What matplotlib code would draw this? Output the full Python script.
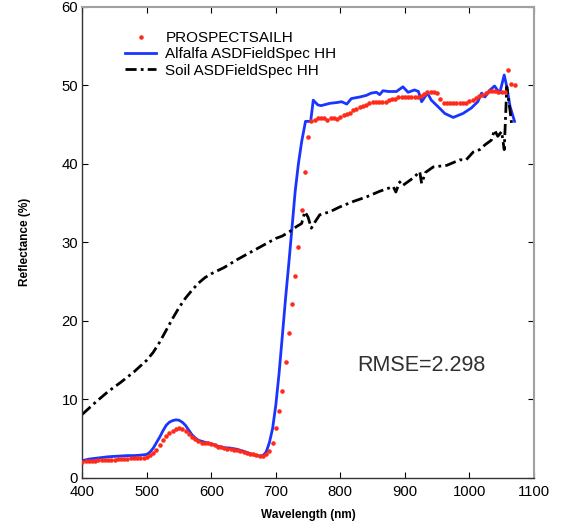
import matplotlib
matplotlib.use("Agg")
import matplotlib.pyplot as plt
import numpy as np

plt.rcParams['font.family'] = ['Liberation Sans', 'DejaVu Sans']

# PROSPECT-SAIL simulated reflectance, one value every 5 nm from 400 to 1070 nm
sim_wl = np.arange(400, 1075, 5)
sim_refl = [
    2.0, 2.1, 2.15, 2.2, 2.2, 2.25, 2.25, 2.3, 2.3, 2.35,        # 400-445
    2.35, 2.4, 2.4, 2.45, 2.45, 2.5, 2.5, 2.55, 2.55, 2.6,       # 450-495
    2.7, 2.9, 3.2, 3.6, 4.2, 4.8, 5.3, 5.7, 6.0, 6.2,            # 500-545
    6.3, 6.2, 6.0, 5.6, 5.2, 4.9, 4.7, 4.5, 4.4, 4.4,            # 550-595
    4.3, 4.2, 4.0, 3.9, 3.8, 3.7, 3.7, 3.6, 3.5, 3.4,            # 600-645
    3.3, 3.2, 3.1, 3.0, 2.9, 2.8, 2.85, 3.0, 3.4, 4.5,           # 650-695
    6.3, 8.5, 11.1, 14.8, 18.4, 22.1, 25.7, 29.4, 34.1, 38.9,    # 700-745
    43.4, 45.4, 45.6, 45.8, 45.8, 45.8, 45.6, 45.8, 45.8, 45.7,  # 750-795
    46.0, 46.2, 46.3, 46.5, 46.8, 47.0, 47.2, 47.4, 47.5, 47.7,  # 800-845
    47.9, 47.9, 47.9, 47.9, 47.9, 48.1, 48.2, 48.3, 48.5, 48.5,  # 850-895
    48.5, 48.5, 48.5, 48.5, 48.5, 48.6, 48.9, 49.2, 49.2, 49.2,  # 900-945
    49.0, 48.2, 47.8, 47.7, 47.7, 47.7, 47.7, 47.7, 47.7, 47.8,  # 950-995
    48.0, 48.1, 48.4, 48.6, 48.8, 49.0, 49.3, 49.3, 49.3, 49.2,  # 1000-1045
    49.2, 49.2, 51.9, 50.2, 50.0,                                # 1050-1070
]

# Alfalfa ASD FieldSpec measurement
alf_wl = [400, 410, 420, 430, 440, 450, 460, 470, 480, 490,
          500, 505, 510, 515, 520, 525, 530, 535, 540, 545,
          550, 555, 560, 565, 570, 575, 580, 590, 600, 610,
          620, 630, 640, 650, 660, 670, 675, 680, 685, 690,
          695, 700, 705, 710, 715, 720, 725, 730, 735, 740,
          746, 754, 758, 765, 770, 784, 795, 802, 810, 817,
          830, 840, 848, 856, 861, 866, 875, 887, 897, 905,
          915, 921, 926, 931, 935, 941, 951, 962, 975, 990,
          1003, 1013, 1019, 1024, 1032, 1039, 1047, 1054, 1058, 1063, 1070]
alf_refl = [2.2, 2.4, 2.5, 2.6, 2.7, 2.75, 2.8, 2.85, 2.85, 2.9,
            3.0, 3.3, 3.8, 4.5, 5.2, 6.0, 6.7, 7.1, 7.3, 7.4,
            7.35, 7.1, 6.7, 6.1, 5.5, 5.1, 4.8, 4.55, 4.35, 4.05,
            3.85, 3.8, 3.65, 3.4, 3.1, 2.85, 2.8, 2.85, 3.3, 4.5,
            6.3, 9.3, 13.3, 18.0, 22.8, 27.2, 31.8, 36.5, 40.0, 42.8,
            45.4, 45.4, 48.1, 47.5, 47.4, 47.7, 47.8, 47.9, 47.6, 48.3,
            48.5, 48.7, 49.0, 49.1, 48.8, 49.3, 49.2, 49.2, 49.8, 49.1,
            49.4, 49.2, 47.9, 48.5, 49.0, 48.1, 47.3, 46.4, 45.9, 46.4,
            47.1, 47.9, 49.0, 48.5, 49.4, 49.9, 49.0, 51.3, 49.8, 47.3, 45.4]

# Soil ASD FieldSpec measurement
soil_wl = [400, 420, 440, 460, 480, 500, 510, 520, 530, 540,
           550, 560, 570, 580, 590, 600, 620, 640, 660, 680,
           700, 710, 722, 732, 740, 745, 750, 755, 760, 768,
           784, 799, 820, 841, 861, 882, 886, 892, 896, 913,
           923, 926, 932, 944, 965, 985, 995, 1006, 1016, 1024,
           1034, 1039, 1044, 1050, 1054, 1058, 1063, 1066]
soil_refl = [8.1, 9.6, 11.0, 12.2, 13.5, 15.0, 16.0, 17.3, 18.8, 20.3,
             21.7, 22.9, 23.9, 24.8, 25.5, 26.0, 26.8, 27.8, 28.7, 29.6,
             30.5, 30.8, 31.4, 32.0, 32.4, 33.9, 33.2, 31.8, 32.5, 33.5,
             33.9, 34.5, 35.2, 35.8, 36.5, 37.1, 36.4, 37.7, 37.2, 38.2,
             39.0, 37.5, 38.9, 39.6, 39.8, 40.5, 40.5, 41.5, 41.8, 42.4,
             43.0, 44.3, 43.5, 44.1, 41.8, 49.8, 46.8, 44.7]

rmse_text = "RMSE=2.298"

fig = plt.figure(figsize=(5.62, 5.26), dpi=100)
ax = fig.add_axes([0.1464, 0.0913, 0.8036, 0.8960])

ax.plot(sim_wl, sim_refl, linestyle='none', marker='.', markersize=4.5,
        color='#ff2a1a', label='PROSPECTSAILH', zorder=3)
ax.plot(alf_wl, alf_refl, color='#1a35ff', linewidth=2.0,
        label='Alfalfa ASDFieldSpec HH', zorder=2)
ax.plot(soil_wl, soil_refl, color='black', linewidth=2.0,
        linestyle=(0, (4, 1.5, 1, 1.5)), label='Soil ASDFieldSpec HH', zorder=2)

ax.set_xlim(400, 1100)
ax.set_ylim(0, 60)
ax.set_xticks(np.arange(400, 1101, 100))
ax.set_yticks(np.arange(0, 61, 10))
ax.tick_params(direction='in', length=4.5, width=0.8, top=True, right=True,
               labelsize=10.7, colors='black')
ax.tick_params(axis='x', pad=5)
ax.tick_params(axis='y', pad=3)

for side in ['left', 'bottom']:
    ax.spines[side].set_color('#333333')
    ax.spines[side].set_linewidth(1.0)
for side in ['right', 'top']:
    ax.spines[side].set_color('#a0a0a0')
    ax.spines[side].set_linewidth(1.5)

ax.set_xlabel('Wavelength (nm)', fontsize=8.5, fontweight='bold', labelpad=7)
ax.set_ylabel('Reflectance (%)', fontsize=8.5, fontweight='bold', labelpad=22)

ax.text(826, 14.3, rmse_text, fontsize=15.5, color='#303030', va='center', ha='left')

ax.legend(loc='upper left', bbox_to_anchor=(0.0945, 0.948), frameon=False,
          fontsize=11, numpoints=1, handlelength=2.05, handletextpad=0.6,
          labelspacing=0.15, borderpad=0, borderaxespad=0)

fig.savefig('out.png', dpi=100)
